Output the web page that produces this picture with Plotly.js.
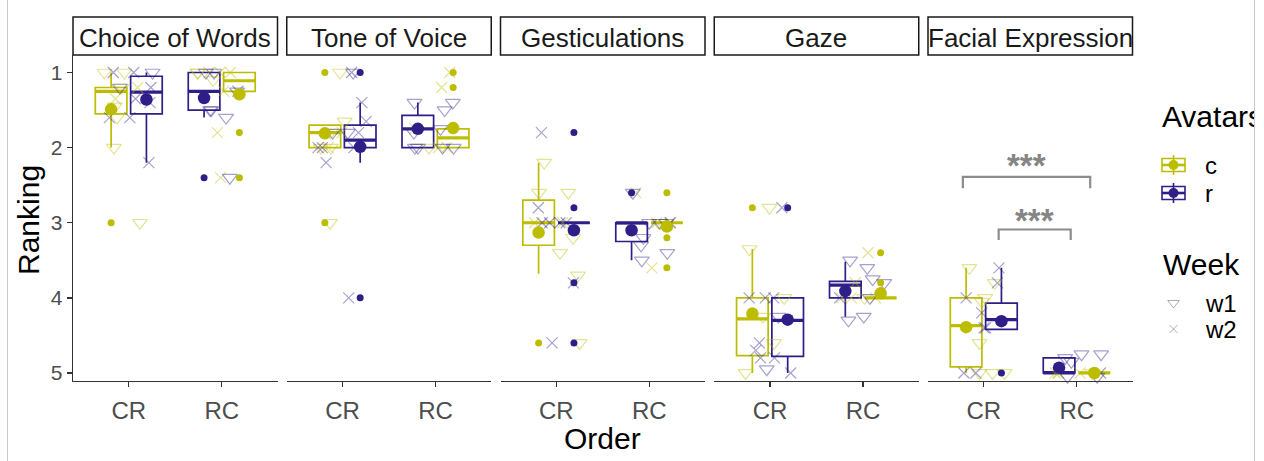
<!DOCTYPE html>
<html>
<head>
<meta charset="utf-8">
<script src="https://cdn.plot.ly/plotly-3.0.1.min.js"></script>
<style>
  html, body { margin: 0; padding: 0; background: #ffffff; }
  #chart { width: 1264px; height: 461px; }
</style>
</head>
<body>
<div id="chart"></div>
<script>
// ---- data -------------------------------------------------------------
const aspects = ['Choice of Words', 'Tone of Voice', 'Gesticulations', 'Gaze', 'Facial Expression'];
const orders = ['CR', 'RC'];
const avatars = ['c', 'r'];
const weeks = ['w1', 'w2'];

// Box statistics, one entry per aspect x order: [CoW CR, CoW RC, ToV CR, ToV RC, ...]
const cLow  = [1.00, 1.00, 1.70, 1.75, 2.20, 3.00, 3.35, 4.00, 3.60, 5.00];
const cQ1   = [1.20, 1.00, 1.70, 1.75, 2.70, 3.00, 4.00, 4.00, 4.00, 5.00];
const cMed  = [1.25, 1.11, 1.80, 1.87, 3.00, 3.00, 4.28, 4.00, 4.37, 5.00];
const cQ3   = [1.55, 1.25, 2.00, 2.00, 3.30, 3.00, 4.77, 4.00, 4.92, 5.00];
const cHigh = [2.00, 1.25, 2.00, 2.00, 3.68, 3.00, 5.00, 4.00, 5.00, 5.00];
const cMean = [1.49, 1.29, 1.81, 1.74, 3.13, 3.05, 4.21, 3.94, 4.39, 5.00];
const cOut  = [[3.0], [1.8, 2.4], [1.0, 3.0], [1.0, 1.2], [4.6], [2.6, 3.2, 3.6], [2.8], [3.4, 3.8], [], []];

const rLow  = [1.00, 1.00, 1.40, 1.40, 3.00, 3.00, 4.00, 3.52, 3.60, 4.80];
const rQ1   = [1.05, 1.00, 1.70, 1.57, 3.00, 3.00, 4.00, 3.78, 4.07, 4.80];
const rMed  = [1.26, 1.25, 1.90, 1.75, 3.00, 3.00, 4.30, 3.83, 4.29, 5.00];
const rQ3   = [1.55, 1.50, 2.00, 2.00, 3.00, 3.25, 4.78, 4.00, 4.42, 5.00];
const rHigh = [2.20, 1.60, 2.20, 2.00, 3.00, 3.50, 5.00, 4.25, 4.42, 5.00];
const rMean = [1.36, 1.34, 1.99, 1.75, 3.10, 3.10, 4.29, 3.91, 4.31, 4.93];
const rOut  = [[], [2.4], [1.0, 4.0], [], [1.8, 2.8, 3.8, 4.6], [2.6], [2.8], [], [5.0], []];

// Individual rankings by avatar and week
const cW1 = [[1.0, 1.0, 1.2, 1.45, 1.6, 2.0, 3.0], [1.0, 1.0, 1.1], [1.0, 1.65, 1.8, 2.0, 2.0, 3.0], [2.0],
             [2.2, 2.6, 2.6, 3.2, 3.4, 3.7, 4.6], [3.0], [2.8, 3.35, 4.0, 4.6, 5.0, 4.25], [4.0],
             [3.6, 3.8, 4.05, 4.0, 4.6, 5.0, 5.0, 5.0], [5.0]];
const cW2 = [[1.2, 1.35], [1.0, 1.0, 1.0, 1.25, 1.8, 2.4], [1.8, 2.0], [1.0, 1.2, 2.0, 2.0, 1.75],
             [3.0, 3.0], [3.0, 2.6, 3.6, 3.0], [], [3.4, 4.0, 4.0, 4.0, 3.8],
             [], [5.0, 5.0, 5.0, 5.0]];
const rW1 = [[1.0, 1.2], [1.0, 1.0, 1.25, 1.5, 1.6, 1.5, 2.4], [1.0, 1.8, 1.8], [1.4, 1.4, 1.5, 2.0, 2.0, 2.0, 2.0, 1.8, 1.75],
             [], [2.6, 3.0, 3.3, 3.4, 3.5, 3.2, 3.0, 3.0], [4.25, 4.95], [3.6, 3.75, 4.25, 4.3, 3.5, 3.8, 4.0],
             [], [4.75, 4.75, 4.8, 4.85, 5.05, 5.05]];
const rW2 = [[1.0, 1.0, 1.2, 1.35, 1.4, 1.6, 1.6, 2.2], [1.25], [1.0, 1.4, 1.65, 2.0, 2.0, 2.2, 1.8, 2.0, 4.0], [],
             [1.8, 2.8, 3.0, 3.0, 3.0, 3.0, 3.8, 4.6], [3.0], [2.8, 4.0, 4.6, 4.8, 4.0, 4.0, 4.7, 4.8, 5.0], [4.0],
             [3.8, 4.0, 4.2, 4.4, 4.4, 5.0, 5.0, 3.6], [5.0]];

const sigLabel = '***';

// ---- styling ------------------------------------------------------------
const W = 1264, H = 461;
const FONT = 'Liberation Sans, Arial, sans-serif';
const COL = ['#BDBD00', '#2E1E87'];
const COL_LIGHT = ['rgba(189,189,0,0.42)', 'rgba(46,30,135,0.42)'];
const WEEK_SYMBOL = ['triangle-down-open', 'x-thin-open'];
const PANEL_X0 = 73, PANEL_W = 204.5, PANEL_STEP = 213.75;
const PANEL_TOP = 55, PANEL_BOTTOM = 381, STRIP_TOP = 17;
const DODGE = 0.19, BOXW = 0.34, JITTER = 0.27;

const stats = [
  {low: cLow, q1: cQ1, med: cMed, q3: cQ3, high: cHigh, mean: cMean, out: cOut, raw: [cW1, cW2]},
  {low: rLow, q1: rQ1, med: rMed, q3: rQ3, high: rHigh, mean: rMean, out: rOut, raw: [rW1, rW2]}
];

const px = x => x / W;
const py = y => 1 - y / H;
const xa = k => (k === 0 ? 'x' : 'x' + (k + 1));
const xaName = k => (k === 0 ? 'xaxis' : 'xaxis' + (k + 1));
// first-presented avatar sits on the left of each order
const dodge = (a, o) => (a === o ? -1 : 1) * DODGE;

// deterministic horizontal jitter for the individual points
let seed = 12345;
function jitter() {
  seed = (seed * 9301 + 49297) % 233280;
  return (seed / 233280 - 0.5) * 2 * JITTER;
}

const traces = [];

for (let k = 0; k < aspects.length; k++) {
  for (let a = 0; a < avatars.length; a++) {
    const S = stats[a];
    const g = [2 * k, 2 * k + 1];
    const pos = [0 + dodge(a, 0), 1 + dodge(a, 1)];

    traces.push({
      type: 'box', xaxis: xa(k), yaxis: 'y',
      x: pos,
      lowerfence: g.map(i => S.low[i]),
      q1: g.map(i => S.q1[i]),
      median: g.map(i => S.med[i]),
      q3: g.map(i => S.q3[i]),
      upperfence: g.map(i => S.high[i]),
      width: BOXW, whiskerwidth: 0, boxpoints: false,
      line: {color: COL[a], width: 1.7},
      fillcolor: 'rgba(255,255,255,0)',
      hoverinfo: 'skip'
    });

    // bold median bars
    const mx = [], my = [];
    g.forEach((i, o) => {
      mx.push(pos[o] - BOXW / 2, pos[o] + BOXW / 2, null);
      my.push(S.med[i], S.med[i], null);
    });
    traces.push({
      type: 'scatter', mode: 'lines', xaxis: xa(k), yaxis: 'y',
      x: mx, y: my, line: {color: COL[a], width: 3.2}, hoverinfo: 'skip'
    });
  }

  // individual rankings
  for (let a = 0; a < avatars.length; a++) {
    for (let w = 0; w < weeks.length; w++) {
      const xs = [], ys = [];
      for (let o = 0; o < orders.length; o++) {
        stats[a].raw[w][2 * k + o].forEach(v => { xs.push(o + jitter()); ys.push(v); });
      }
      traces.push({
        type: 'scatter', mode: 'markers', xaxis: xa(k), yaxis: 'y',
        x: xs, y: ys, cliponaxis: false,
        marker: {symbol: WEEK_SYMBOL[w], size: w === 0 ? 13 : 11, color: COL_LIGHT[a],
                 line: {color: COL_LIGHT[a], width: 1.2}},
        hoverinfo: 'skip'
      });
    }
  }

  // outliers and means
  for (let a = 0; a < avatars.length; a++) {
    const S = stats[a];
    const ox = [], oy = [], mxs = [], mys = [];
    for (let o = 0; o < orders.length; o++) {
      const i = 2 * k + o;
      const p = o + dodge(a, o);
      S.out[i].forEach(v => { ox.push(p); oy.push(v); });
      mxs.push(p); mys.push(S.mean[i]);
    }
    traces.push({
      type: 'scatter', mode: 'markers', xaxis: xa(k), yaxis: 'y',
      x: ox, y: oy, cliponaxis: false,
      marker: {symbol: 'circle', size: 7, color: COL[a]}, hoverinfo: 'skip'
    });
    traces.push({
      type: 'scatter', mode: 'markers', xaxis: xa(k), yaxis: 'y',
      x: mxs, y: mys, cliponaxis: false,
      marker: {symbol: 'circle', size: 12.5, color: COL[a]}, hoverinfo: 'skip'
    });
  }
}

// ---- layout -------------------------------------------------------------
const layout = {
  width: W, height: H,
  margin: {l: 0, r: 0, t: 0, b: 0},
  paper_bgcolor: '#ffffff', plot_bgcolor: 'rgba(0,0,0,0)',
  showlegend: false, hovermode: false, boxmode: 'overlay',
  font: {family: FONT, color: '#000000'},
  yaxis: {
    domain: [py(PANEL_BOTTOM), py(PANEL_TOP)], range: [5.107, 0.767], anchor: 'x',
    showline: true, linecolor: '#333333', linewidth: 1.4,
    ticks: 'outside', ticklen: 5, tickwidth: 1.4, tickcolor: '#333333',
    tickvals: [1, 2, 3, 4, 5], tickfont: {size: 21, color: '#4D4D4D'},
    showgrid: false, zeroline: false, fixedrange: true
  },
  xaxis6: {domain: [0, 1254 / W], range: [0, 1254], anchor: 'y6', visible: false, fixedrange: true},
  yaxis6: {domain: [0, 1], range: [H, 0], anchor: 'x6', visible: false, fixedrange: true},
  shapes: [], annotations: []
};

for (let k = 0; k < aspects.length; k++) {
  const L = PANEL_X0 + k * PANEL_STEP, R = L + PANEL_W;
  layout[xaName(k)] = {
    domain: [px(L), px(R)], range: [-0.6, 1.6], anchor: 'y',
    showline: true, linecolor: '#333333', linewidth: 1.4,
    ticks: 'outside', ticklen: 5, tickwidth: 1.4, tickcolor: '#333333',
    tickvals: [0, 1], ticktext: orders, tickfont: {size: 24, color: '#4D4D4D'},
    ticklabelstandoff: 3,
    showgrid: false, zeroline: false, fixedrange: true
  };
  // facet strip
  layout.shapes.push({
    type: 'rect', xref: 'paper', yref: 'paper',
    x0: px(L), x1: px(R), y0: py(PANEL_TOP), y1: py(STRIP_TOP),
    line: {color: '#1a1a1a', width: 1.5}, fillcolor: '#ffffff'
  });
  layout.annotations.push({
    xref: 'paper', yref: 'paper', x: px((L + R) / 2), y: py(38),
    text: aspects[k], showarrow: false, xanchor: 'center', yanchor: 'middle',
    font: {size: 26, color: '#1a1a1a'}
  });
}

// significance brackets in the last facet
const BR = '#8C8C8C';
[[-0.225, 1.145, 2.39, 2.54, 2.24], [0.16, 0.935, 3.09, 3.23, 2.97]].forEach(b => {
  layout.shapes.push({
    type: 'path', xref: 'x5', yref: 'y',
    path: `M ${b[0]} ${b[3]} L ${b[0]} ${b[2]} L ${b[1]} ${b[2]} L ${b[1]} ${b[3]}`,
    line: {color: BR, width: 2.2}
  });
  layout.annotations.push({
    xref: 'x5', yref: 'y', x: (b[0] + b[1]) / 2, y: b[4],
    text: '<b>' + sigLabel + '</b>', showarrow: false, xanchor: 'center', yanchor: 'middle',
    font: {size: 33, color: '#858585'}
  });
});

// axis titles
layout.annotations.push({
  xref: 'paper', yref: 'paper', x: px(29), y: py(220), text: 'Ranking', textangle: -90,
  showarrow: false, xanchor: 'center', yanchor: 'middle', font: {size: 30, color: '#000000'}
});
layout.annotations.push({
  xref: 'paper', yref: 'paper', x: px(602.5), y: py(438), text: 'Order',
  showarrow: false, xanchor: 'center', yanchor: 'middle', font: {size: 30, color: '#000000'}
});

// ---- legend -------------------------------------------------------------
const KEY_X = 1173.5, LABEL_X = 1203;
const avatarKeyY = [165, 193];
const weekKeyY = [303, 329];

traces.push({
  type: 'scatter', mode: 'text', xaxis: 'x6', yaxis: 'y6', cliponaxis: true,
  x: [1212.5], y: [119], text: ['Avatars'], textposition: 'middle center',
  textfont: {size: 30, color: '#000000', family: FONT}, hoverinfo: 'skip'
});
layout.annotations.push({
  xref: 'paper', yref: 'paper', x: px(1161), y: py(264), text: 'Week',
  showarrow: false, xanchor: 'left', yanchor: 'middle', font: {size: 30, color: '#000000'}
});

avatars.forEach((name, a) => {
  const yc = avatarKeyY[a];
  layout.shapes.push({type: 'line', xref: 'x6', yref: 'y6', layer: 'below', x0: KEY_X, x1: KEY_X, y0: yc - 10, y1: yc + 10,
                      line: {color: COL[a], width: 1.6}});
  layout.shapes.push({type: 'rect', xref: 'x6', yref: 'y6', layer: 'below', x0: KEY_X - 11.5, x1: KEY_X + 11.5, y0: yc - 6.5, y1: yc + 6.5,
                      line: {color: COL[a], width: 1.6}, fillcolor: 'rgba(255,255,255,0)'});
  layout.shapes.push({type: 'line', xref: 'x6', yref: 'y6', layer: 'below', x0: KEY_X - 11.5, x1: KEY_X + 11.5, y0: yc, y1: yc,
                      line: {color: COL[a], width: 2.6}});
  traces.push({type: 'scatter', mode: 'markers', xaxis: 'x6', yaxis: 'y6', x: [KEY_X], y: [yc],
               marker: {symbol: 'circle', size: 10, color: COL[a]}, hoverinfo: 'skip'});
  layout.annotations.push({xref: 'paper', yref: 'paper', x: px(LABEL_X), y: py(yc), text: name,
                           showarrow: false, xanchor: 'left', yanchor: 'middle', font: {size: 24, color: '#000000'}});
});

weeks.forEach((name, w) => {
  const yc = weekKeyY[w];
  traces.push({type: 'scatter', mode: 'markers', xaxis: 'x6', yaxis: 'y6', x: [KEY_X], y: [yc],
               marker: {symbol: WEEK_SYMBOL[w], size: w === 0 ? 10 : 8, color: 'rgba(120,120,120,0.6)',
                        line: {color: 'rgba(120,120,120,0.6)', width: 1}}, hoverinfo: 'skip'});
  layout.annotations.push({xref: 'paper', yref: 'paper', x: px(LABEL_X), y: py(yc), text: name,
                           showarrow: false, xanchor: 'left', yanchor: 'middle', font: {size: 24, color: '#000000'}});
});

// frame
[7.5, 1254.5].forEach(x => layout.shapes.push({
  type: 'line', xref: 'paper', yref: 'paper', x0: px(x), x1: px(x), y0: 0, y1: 1,
  line: {color: '#C8C8C8', width: 1}
}));

Plotly.newPlot('chart', traces, layout, {staticPlot: true, displayModeBar: false});
</script>
</body>
</html>
